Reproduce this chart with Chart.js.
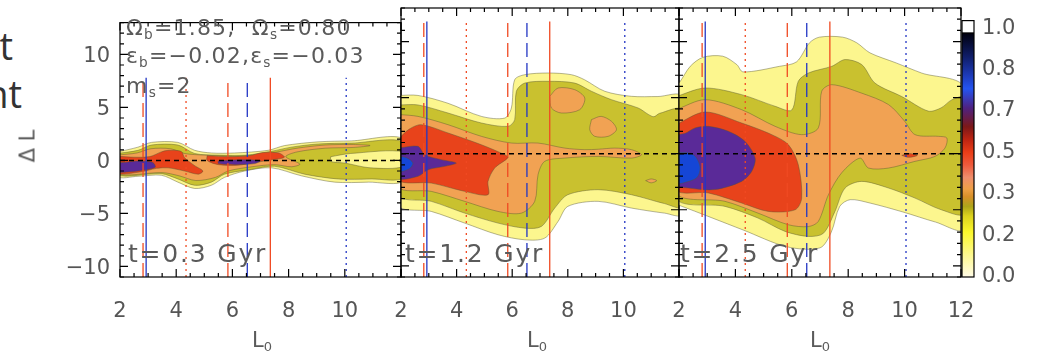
<!DOCTYPE html>
<html>
<head>
<meta charset="utf-8">
<script src="https://cdn.jsdelivr.net/npm/chart.js@4.4.0/dist/chart.umd.min.js"></script>
<style>
  body { margin: 0; background: #fff; width: 1041px; height: 355px; overflow: hidden; position: relative; font-family: "DejaVu Sans", sans-serif; }
  canvas { position: absolute; left: 0; top: 0; }
  .t { position: absolute; white-space: nowrap; color: #5a5a5a; line-height: 1; }
  .s { font-size: 0.62em; position: relative; top: 0.3em; }
  .ann { font-size: 22px; letter-spacing: 1.2px; left: 126px; }
  .time { font-size: 25px; letter-spacing: 1.8px; }
  .lab { font-size: 21px; transform: translateX(-50%); }
  .slide { position: absolute; right: 1028px; white-space: nowrap; font-family: "Open Sans", sans-serif; font-size: 38px; color: #333; line-height: 1; }
</style>
</head>
<body>
<div class="slide" style="top:26px">t</div>
<div class="slide" style="top:74px;right:1019px">nt</div>

<canvas id="p1" width="1041" height="355"></canvas>
<canvas id="p2" width="1041" height="355"></canvas>
<canvas id="p3" width="1041" height="355"></canvas>
<canvas id="cb" width="1041" height="355"></canvas>

<div class="t ann" style="top:17px">Ω<span class="s">b</span>=1.85,&nbsp; Ω<span class="s">s</span>=0.80</div>
<div class="t ann" style="top:45px">ε<span class="s">b</span>=−0.02,ε<span class="s">s</span>=−0.03</div>
<div class="t ann" style="top:75px">m<span class="s">s</span>=2</div>

<div class="t time" style="top:241px;left:128px">t=0.3 Gyr</div>
<div class="t time" style="top:241px;left:405px">t=1.2 Gyr</div>
<div class="t time" style="top:241px;left:680px">t=2.5 Gyr</div>

<div class="t lab" style="top:330px;left:262px">L<span class="s">0</span></div>
<div class="t lab" style="top:330px;left:537px">L<span class="s">0</span></div>
<div class="t lab" style="top:330px;left:820px">L<span class="s">0</span></div>
<div class="t" style="font-size:21px;left:28px;top:146px;transform:translate(-50%,-50%) rotate(-90deg)">Δ L</div>

<script>
// axis ranges and ticks
const xRange = [2, 12];
const yRange = [-11, 13];
const xTicks = [[2, 4, 6, 8, 10], [2, 4, 6, 8, 10], [2, 4, 6, 8, 10, 12]];
const yTicks = [-10, -5, 0, 5, 10];
const cbLabels = ['0.0', '0.2', '0.3', '0.5', '0.7', '0.8', '1.0'];

// vertical reference lines (L0)
const redDashedX = [2.82, 5.84];
const redDottedX = [4.35];
const redSolidX = [7.35];
const blueSolidX = [2.93];
const blueDashedX = [6.53];
const blueDottedX = [10.05];
const lineTop = [7.8, 11.8, 11.8];

// contour level fills: 0-0.2, 0.2-0.3, 0.3-0.5, 0.5-0.7, 0.7-0.8, 0.8-1.0
const levelColors = ['#fcf68e', '#c9c12f', '#f1a253', '#e8431b', '#5a2a98', '#1546d6'];

// ---- panel 1 (t=0.3 Gyr) contour outlines [L0, dL]
const p1Yellow = [[1.9,0.9],[2,0.86],[2.64,1.25],[3.12,1.7],[4.06,1.7],[4.66,0.95],[5.25,0.7],[6.08,0.7],[7.27,0.95],[7.86,1.4],[9.05,1.75],[10.23,1.84],[12.1,2.0],
  [12.1,-1.9],[10.83,-2.05],[9.64,-2.05],[8.45,-1.45],[7.39,-0.7],[6.44,-1.0],[5.72,-1.6],[5.25,-2.35],[4.66,-2.65],[4.06,-2.05],[3.47,-1.4],[2.64,-1.5],[1.9,-1.5]];
const p1Olive = [[1.9,0.65],[2.64,0.95],[3.12,1.45],[4.06,1.45],[4.66,0.65],[5.49,0.5],[6.5,0.5],[7.39,0.86],[8.1,1.25],[9.05,1.55],[10.23,1.63],[12.1,1.7],
  [12.1,-1.6],[10.94,-1.75],[9.76,-1.75],[8.57,-1.3],[7.5,-0.55],[6.67,-0.85],[5.72,-1.3],[5.25,-2.05],[4.66,-2.35],[4.06,-1.75],[3.47,-1.25],[1.9,-1.35]];
const p1Pale = [[9.5,0.35],[10.2,0.65],[12.1,0.8],[12.1,-0.55],[10.9,-0.7],[10.0,-0.25],[9.5,-0.1]];
const p1Orange = [[1.9,0.5],[2.6,0.7],[3.1,1.1],[3.8,1.1],[4.3,0.65],[5.0,0.5],[6.1,0.38],[6.9,0.5],[7.6,0.8],[8.3,1.15],[9.3,1.45],[10.3,1.5],[10.9,1.4],
  [10.3,1.22],[9.3,1.15],[8.3,0.8],[7.9,0.35],[8.4,-0.35],[8.1,-0.6],[7.5,-0.4],[6.7,-0.6],[5.85,-1.0],[5.4,-1.6],[4.7,-1.9],[4.1,-1.45],[3.5,-1.15],[1.9,-1.25]];
const p1Red1 = [[1.9,0.4],[2.5,0.3],[3.06,0.36],[3.47,0.8],[3.71,0.95],[4.18,0.85],[4.3,0.25],[4.66,-0.5],[4.95,-1.0],[4.78,-1.3],[4.3,-1.0],[3.71,-0.7],[3.3,-0.75],[2.7,-1.1],[1.9,-1.18]];
const p1Purple1 = [[1.9,-0.2],[2.1,-0.2],[2.64,-0.05],[3.17,-0.2],[3.25,-0.65],[2.76,-0.95],[2.28,-1.1],[1.9,-1.05]];
const p1Red2 = [[5.1,0.45],[5.9,0.35],[6.6,0.45],[7.1,0.75],[7.65,0.7],[7.85,0.3],[7.4,0.05],[6.8,-0.2],[6.2,-0.45],[5.5,-0.4],[5.1,0.0]];
const p1Purple2 = [[5.5,-0.05],[6.2,0.05],[7.0,-0.02],[6.8,-0.3],[6.1,-0.4],[5.5,-0.3]];

// ---- panel 2 (t=1.2 Gyr)
const p2Yellow = [[1.9,5.2],[2.61,5.2],[3.69,4.5],[4.89,3.33],[5.73,3.18],[5.97,4.08],[6.09,6.6],[6.45,7.05],[7.29,7.2],[8.13,7.05],[8.6,6.6],[9.33,5.57],[10.29,5.12],[11.24,5.1],[12.1,5.1],
  [12.1,-5.4],[11.48,-5.3],[10.29,-4.85],[9.09,-4.25],[8.0,-4.7],[7.65,-6.04],[7.17,-7.53],[6.45,-7.68],[5.49,-7.23],[4.29,-6.19],[3.09,-5.15],[1.9,-4.55]];
const p2Olive = [[1.9,4.35],[2.61,4.35],[3.69,3.63],[4.89,2.74],[5.85,2.44],[6.09,3.04],[6.15,5.57],[6.45,6.3],[7.29,6.46],[8.25,6.3],[8.85,5.57],[9.57,4.82],[10.53,4.08],[10.9,3.5],[11.1,3.3],[11.3,3.6],[12.1,3.9],
  [12.1,-4.7],[11.48,-4.45],[10.29,-3.66],[9.09,-3.21],[8.0,-3.66],[7.53,-4.85],[7.05,-6.49],[6.45,-6.64],[5.49,-6.19],[4.29,-5.3],[3.09,-4.25],[1.9,-3.66]];
const p2Orange = [[1.9,3.5],[2.61,3.33],[3.69,2.59],[4.89,1.55],[5.97,0.95],[6.93,0.95],[7.89,0.5],[8.61,0.36],[9.1,0.4],[9.69,0.5],[10.29,0.36],[10.65,-0.09],
  [10.29,-0.39],[9.09,-0.24],[7.89,-0.39],[7.17,-0.68],[6.93,-1.87],[6.81,-4.25],[6.33,-5.3],[5.49,-5.15],[4.29,-4.25],[3.09,-3.36],[1.9,-2.92]];
const p2OrangeA = [[7.35,5.12],[7.65,5.86],[8.25,5.71],[8.61,4.97],[8.43,3.93],[7.77,3.63],[7.41,4.08]];
const p2OrangeB = [[8.85,3.04],[9.2,3.33],[9.57,2.89],[9.75,2.14],[9.45,1.55],[8.97,1.55],[8.79,2.14]];
const p2OrangeC = [[10.8,-2.4],[11.0,-2.25],[11.2,-2.4],[11.0,-2.6]];
const p2Red = [[1.9,1.3],[2.3,2.2],[2.73,2.59],[3.69,1.85],[4.89,0.8],[5.73,-0.09],[5.85,-0.35],[5.37,-1.28],[5.13,-2.47],[5.13,-3.66],[4.29,-3.36],[3.09,-2.62],[1.9,-2.32]];
const p2Purple = [[1.9,0.5],[2.61,0.66],[2.85,-0.09],[3.45,-0.53],[3.99,-0.83],[3.57,-1.13],[2.97,-1.43],[2.61,-2.02],[1.9,-2.17]];
const p2Blue = [[1.9,-0.24],[2.2,-0.35],[2.43,-0.83],[2.3,-1.35],[1.9,-1.58]];

// ---- panel 3 (t=2.5 Gyr)
const p3Yellow = [[1.9,6.2],[2.0,6.3],[2.4,7.8],[2.85,8.6],[3.55,8.7],[4.05,7.95],[4.27,7.3],[5.57,7.8],[6.17,8.2],[6.63,9.9],[6.98,10.4],[7.8,10.4],[8.3,9.9],[8.77,9.0],[9.7,8.1],[10.6,7.2],[12.1,5.9],
  [12.1,-6.7],[11.1,-6.1],[9.94,-5.2],[8.77,-4.4],[8.07,-4.1],[7.7,-4.7],[7.4,-7.0],[7.0,-8.4],[5.82,-8.3],[4.27,-6.8],[2.0,-4.6],[1.9,-4.6]];
const p3Olive = [[1.9,5.1],[2.92,5.86],[4.22,5.27],[5.41,4.23],[6.0,3.9],[6.23,6.46],[6.59,7.2],[7.42,7.8],[7.89,8.4],[8.48,7.95],[8.95,6.3],[9.9,5.1],[10.84,3.8],[11.3,4.1],[11.67,4.8],[12.1,5.0],
  [12.1,-5.3],[11.3,-5.0],[10.37,-3.96],[9.43,-3.06],[8.48,-2.47],[7.89,-3.06],[7.53,-5.15],[7.12,-7.1],[6.59,-7.38],[5.76,-6.93],[4.8,-5.74],[3.63,-4.7],[1.9,-3.96]];
const p3Orange = [[1.9,3.93],[2.92,4.82],[4.22,3.93],[5.41,2.44],[6.35,1.7],[6.94,2.3],[7.06,5.57],[7.42,6.16],[8.48,5.4],[9.43,4.38],[10.0,2.9],[10.37,1.7],[11.2,1.55],[11.5,1.4],[11.43,0.5],[11.08,-0.24],
  [10.37,-0.68],[9.43,-1.28],[8.72,-1.28],[8.42,-0.39],[7.77,-1.7],[7.3,-3.66],[6.94,-6.04],[6.59,-6.5],[5.88,-6.34],[4.8,-5.3],[3.63,-4.25],[1.9,-3.5]];
const p3Red = [[1.9,2.6],[2.92,3.72],[4.22,2.74],[5.29,1.7],[5.88,0.8],[6.23,-0.98],[6.35,-3.96],[6.12,-5.0],[5.17,-5.15],[4.22,-4.4],[3.04,-3.5],[1.9,-3.2]];
const p3RedDot = [[9.9,-0.15],[10.15,0.02],[10.45,-0.15],[10.15,-0.32]];
const p3Purple = [[1.9,1.7],[2.2,1.8],[2.57,2.3],[3.04,2.44],[3.75,2.0],[4.34,1.1],[4.7,-0.39],[4.58,-1.57],[4.22,-2.47],[3.28,-3.2],[2.33,-3.06],[1.9,-2.77]];
const p3Blue = [[1.9,0.1],[2.4,0.05],[2.6,-0.3],[2.75,-1.2],[2.65,-2.1],[2.3,-2.5],[1.9,-2.6]];

// [level, outline] in drawing order
const p1Regions = [[0, p1Yellow], [1, p1Olive], [0, p1Pale], [2, p1Orange], [3, p1Red1], [4, p1Purple1], [3, p1Red2], [4, p1Purple2]];
const p2Regions = [[0, p2Yellow], [1, p2Olive], [2, p2Orange], [2, p2OrangeA], [2, p2OrangeB], [2, p2OrangeC], [3, p2Red], [4, p2Purple], [5, p2Blue]];
const p3Regions = [[0, p3Yellow], [1, p3Olive], [2, p3Orange], [3, p3Red], [3, p3RedDot], [4, p3Purple], [5, p3Blue]];

// colorbar colour stops (position on the label index scale)
const cbStops = [[0,'#fffbe6'],[0.55,'#fdf88c'],[1.08,'#fbf72c'],[1.47,'#dcd21e'],[1.7,'#aea51a'],[1.94,'#d8902a'],[2.12,'#eea046'],[2.4,'#ef8e6c'],
  [2.7,'#ee5a3c'],[3.0,'#ea3e18'],[3.32,'#bc2412'],[3.62,'#7c1818'],[4.08,'#4e2282'],[4.54,'#2454f0'],[4.84,'#1e3cbc'],[5.3,'#101e6a'],[5.88,'#00000e']];
const cbTop = 5.88, cbMax = 6.18;

const RED = '#f04a22', BLUE = '#2336c4';
const tickFont = { family: 'DejaVu Sans', size: 21 };

const frameTicks = {
  id: 'frameTicks',
  afterDatasetsDraw(chart) {
    const { ctx, chartArea: a, scales: { x, y } } = chart;
    ctx.save();
    ctx.strokeStyle = '#000';
    ctx.lineWidth = 1.2;
    ctx.strokeRect(a.left, a.top, a.right - a.left, a.bottom - a.top);
    ctx.beginPath();
    for (let v = xRange[0]; v <= xRange[1] + 1e-9; v += 0.5) {
      const px = x.getPixelForValue(v);
      const len = (v % 2 === 0) ? 8 : 4;
      ctx.moveTo(px, a.bottom); ctx.lineTo(px, a.bottom - len);
      ctx.moveTo(px, a.top); ctx.lineTo(px, a.top + len);
    }
    for (let v = yRange[0]; v <= yRange[1]; v += 1) {
      const py = y.getPixelForValue(v);
      const len = (v % 5 === 0) ? 8 : 4;
      ctx.moveTo(a.left, py); ctx.lineTo(a.left + len, py);
      ctx.moveTo(a.right, py); ctx.lineTo(a.right - len, py);
    }
    ctx.stroke();
    ctx.restore();
  }
};

function closed(pts) {
  return pts.concat([pts[0]]).map(([x, y]) => ({ x, y }));
}

function vline(x, top, color, dash) {
  return { data: [{ x, y: yRange[0] }, { x, y: top }], borderColor: color, borderWidth: 1.3, borderDash: dash, fill: false, pointRadius: 0 };
}

function makePanel(id, idx, regions, left, right, showY) {
  const sets = regions.map(([lev, pts]) => ({
    data: closed(pts), fill: 'shape', backgroundColor: levelColors[lev],
    borderColor: 'rgba(85,85,50,0.55)', borderWidth: 0.8, pointRadius: 0, tension: 0.3
  }));
  const top = lineTop[idx];
  redDashedX.forEach(v => sets.push(vline(v, top, RED, [14, 6])));
  redDottedX.forEach(v => sets.push(vline(v, top, RED, [2, 4])));
  redSolidX.forEach(v => sets.push(vline(v, top, RED, [])));
  blueSolidX.forEach(v => sets.push(vline(v, top, BLUE, [])));
  blueDashedX.forEach(v => sets.push(vline(v, top, BLUE, [14, 6])));
  blueDottedX.forEach(v => sets.push(vline(v, top, BLUE, [2, 4])));
  sets.push({ data: [{ x: xRange[0], y: 0 }, { x: xRange[1], y: 0 }], borderColor: '#000', borderWidth: 1.5, borderDash: [5, 4], fill: false, pointRadius: 0 });
  sets.forEach((d, i) => { d.order = sets.length - i; });

  new Chart(document.getElementById(id), {
    type: 'line',
    data: { datasets: sets },
    options: {
      responsive: false,
      animation: false,
      events: [],
      layout: { padding: { left: showY ? 0 : left, right: 1041 - right, top: 8, bottom: 23 } },
      plugins: { legend: { display: false }, tooltip: { enabled: false } },
      scales: {
        x: {
          type: 'linear', min: xRange[0], max: xRange[1],
          grid: { display: false, drawTicks: false }, border: { display: false },
          afterBuildTicks: s => { s.ticks = xTicks[idx].map(v => ({ value: v })); },
          afterFit: s => { s.height = 55; },
          ticks: { font: tickFont, color: '#555', padding: 22, maxRotation: 0, autoSkip: false }
        },
        y: {
          type: 'linear', min: yRange[0], max: yRange[1], display: showY,
          grid: { display: false, drawTicks: false }, border: { display: false },
          afterBuildTicks: s => { s.ticks = yTicks.map(v => ({ value: v })); },
          afterFit: s => { s.width = showY ? left : 0; },
          ticks: { font: tickFont, color: '#555', padding: 10, labelOffset: 2,
            callback: v => (v < 0 ? '\u2212' + Math.abs(v) : String(v)) }
        }
      }
    },
    plugins: [frameTicks]
  });
}

makePanel('p1', 0, p1Regions, 120, 401, true);
makePanel('p2', 1, p2Regions, 401, 679, false);
makePanel('p3', 2, p3Regions, 679, 961, false);

// colorbar
const cbFrame = {
  id: 'cbFrame',
  afterDatasetsDraw(chart) {
    const { ctx, chartArea: a, scales: { y } } = chart;
    ctx.save();
    ctx.strokeStyle = '#000';
    ctx.lineWidth = 1.2;
    ctx.strokeRect(a.left, a.top, a.right - a.left, a.bottom - a.top);
    ctx.beginPath();
    ctx.moveTo(a.left, y.getPixelForValue(cbTop));
    ctx.lineTo(a.right, y.getPixelForValue(cbTop));
    ctx.stroke();
    ctx.restore();
  }
};

new Chart(document.getElementById('cb'), {
  type: 'bar',
  data: {
    labels: ['c'],
    datasets: [
      {
        data: [[0, cbTop]],
        backgroundColor: (c) => {
          const ch = c.chart;
          if (!ch.chartArea) return '#fff';
          const y = ch.scales.y;
          const y0 = y.getPixelForValue(0), y1 = y.getPixelForValue(cbTop);
          const g = ch.ctx.createLinearGradient(0, y0, 0, y1);
          cbStops.forEach(([v, col]) => g.addColorStop(v / cbTop, col));
          return g;
        }
      },
      { data: [[cbTop, cbMax]], backgroundColor: '#ffffff' }
    ]
  },
  options: {
    responsive: false,
    animation: false,
    events: [],
    grouped: false,
    barPercentage: 1,
    categoryPercentage: 1,
    layout: { padding: { left: 962, right: 0, top: 9, bottom: 78 } },
    plugins: { legend: { display: false }, tooltip: { enabled: false } },
    scales: {
      x: { display: false },
      y: {
        position: 'right', min: 0, max: cbMax,
        grid: { display: false, drawTicks: false }, border: { display: false },
        afterBuildTicks: s => { s.ticks = cbLabels.map((_, i) => ({ value: i })); },
        afterFit: s => { s.width = 67; },
        ticks: { font: tickFont, color: '#555', padding: 8, callback: v => cbLabels[v] }
      }
    }
  },
  plugins: [cbFrame]
});
</script>
</body>
</html>
